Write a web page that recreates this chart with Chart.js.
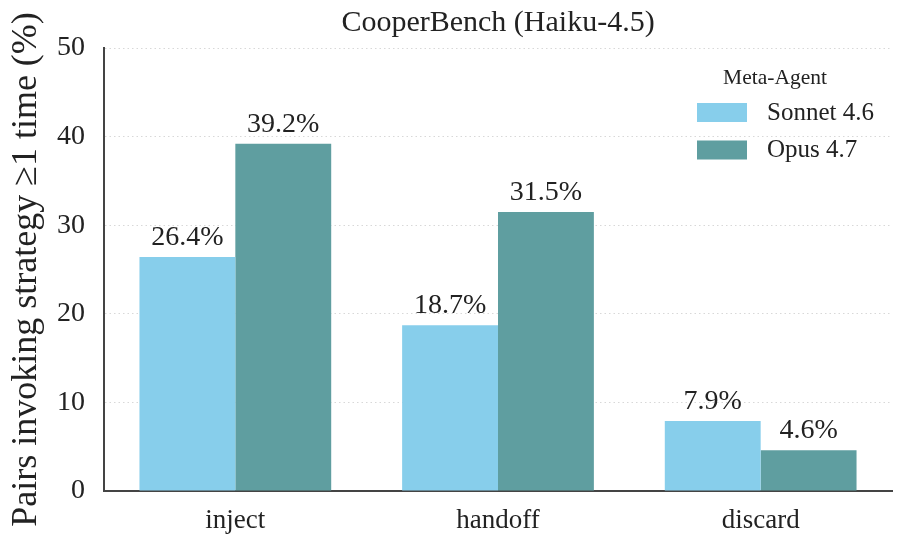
<!DOCTYPE html>
<html>
<head>
<meta charset="utf-8">
<script src="https://cdn.jsdelivr.net/npm/chart.js@4"></script>
<style>
  html, body { margin: 0; padding: 0; background: #fff; }
  #wrap { width: 904px; height: 544px; }
</style>
</head>
<body>
<div id="wrap"><canvas id="chart" width="904" height="544"></canvas></div>
<script>
// data
const categories = ['inject', 'handoff', 'discard'];
const sonnet = [26.4, 18.7, 7.9];
const opus = [39.2, 31.5, 4.6];
const seriesNames = ['Sonnet 4.6', 'Opus 4.7'];
const legendTitle = 'Meta-Agent';
const yTicks = [0, 10, 20, 30, 40, 50];

const FONT = "'Liberation Serif', 'DejaVu Serif', serif";

// value labels above each bar
const barLabels = {
  id: 'barLabels',
  afterDatasetsDraw(chart) {
    const ctx = chart.ctx;
    ctx.save();
    ctx.font = '28px ' + FONT;
    ctx.fillStyle = '#222';
    ctx.textAlign = 'center';
    ctx.textBaseline = 'alphabetic';
    chart.data.datasets.forEach((ds, i) => {
      chart.getDatasetMeta(i).data.forEach((bar, j) => {
        ctx.fillText(ds.data[j].toFixed(1) + '%', bar.x, bar.y - 12);
      });
    });
    ctx.restore();
  }
};

// legend drawn inside the plot, top right
const innerLegend = {
  id: 'innerLegend',
  afterDraw(chart) {
    const ctx = chart.ctx;
    const area = chart.chartArea;
    const boxX = area.right - 195;
    const textX = boxX + 70;
    ctx.save();
    ctx.fillStyle = '#222';
    ctx.font = '21.5px ' + FONT;
    ctx.textAlign = 'center';
    ctx.textBaseline = 'middle';
    ctx.fillText(legendTitle, boxX + 78, area.top + 30);
    ctx.font = '25px ' + FONT;
    ctx.textAlign = 'left';
    chart.data.datasets.forEach((ds, i) => {
      const y = area.top + 64 + i * 37.5;
      ctx.fillStyle = ds.backgroundColor;
      ctx.fillRect(boxX, y - 9, 50, 19);
      ctx.fillStyle = '#222';
      ctx.fillText(ds.label, textX, y + 1);
    });
    ctx.restore();
  }
};

new Chart(document.getElementById('chart'), {
  type: 'bar',
  data: {
    labels: categories,
    datasets: [
      { label: seriesNames[0], data: sonnet, backgroundColor: '#87CEEB' },
      { label: seriesNames[1], data: opus, backgroundColor: '#5F9EA0' }
    ]
  },
  options: {
    responsive: false,
    animation: false,
    categoryPercentage: 0.73,
    barPercentage: 1.0,
    layout: { padding: { left: 0, right: 12, top: 0, bottom: 0 } },
    plugins: {
      legend: { display: false },
      tooltip: { enabled: false },
      title: {
        display: true,
        text: 'CooperBench (Haiku-4.5)',
        color: '#222',
        fullSize: false,
        font: { family: FONT, size: 30, weight: 'normal', lineHeight: 1.2 },
        padding: { top: 5, bottom: 7 }
      }
    },
    scales: {
      x: {
        afterFit(scale) { scale.height = 53; },
        grid: { display: false, drawTicks: false },
        border: { display: true, color: '#444', width: 2 },
        ticks: { color: '#222', font: { family: FONT, size: 27 }, padding: 14 }
      },
      y: {
        min: 0,
        max: 50,
        afterBuildTicks(scale) { scale.ticks = yTicks.map(v => ({ value: v })); },
        afterFit(scale) { scale.width = 104; },
        grid: { color: '#d8d8d8', lineWidth: 1, drawTicks: false },
        border: { display: true, color: '#444', width: 2, dash: [1.5, 3] },
        ticks: { color: '#222', font: { family: FONT, size: 28 }, padding: 19 },
        title: {
          display: true,
          text: 'Pairs invoking strategy ≥1 time (%)',
          color: '#222',
          font: { family: FONT, size: 36, lineHeight: 1.2 },
          padding: { top: 5, bottom: 0 }
        }
      }
    }
  },
  plugins: [barLabels, innerLegend]
});
</script>
</body>
</html>
